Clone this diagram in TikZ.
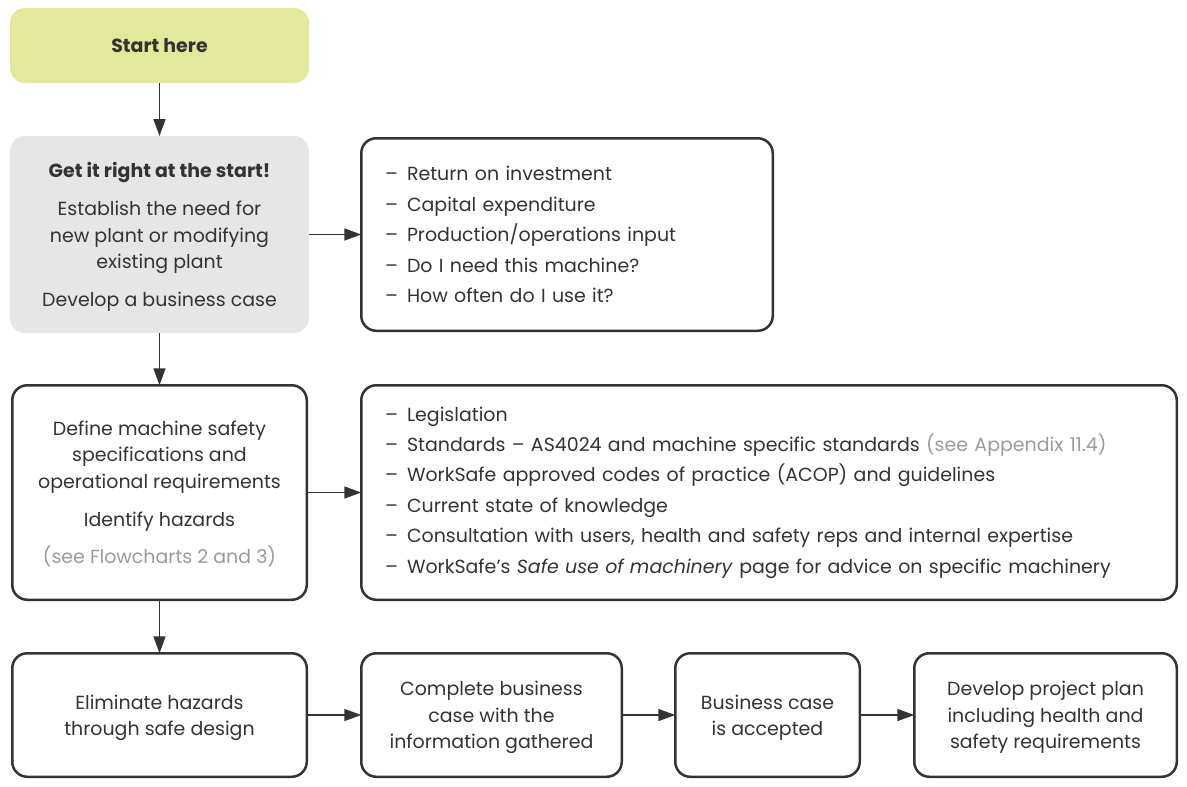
\documentclass[tikz,border=0pt]{standalone}
\usepackage{fontspec}
\setmainfont{Poppins}
\usetikzlibrary{positioning,arrows.meta}
\definecolor{startgreen}{HTML}{E3E99B}
\definecolor{boxgrey}{HTML}{E6E6E7}
\definecolor{darktext}{HTML}{333333}
\definecolor{softtext}{HTML}{9B9B9B}
\newcommand{\dashitem}{\makebox[0.44cm][l]{--}}
\tikzset{
  boxbase/.style={draw=darktext,line width=0.05cm,outer sep=0pt,rounded corners=0.3cm,text=darktext},
  flowbox/.style={boxbase,align=center,text depth=0pt,font=\fontsize{10.8}{15}\selectfont},
  listbox/.style={boxbase,align=left,inner xsep=0.475cm,font=\fontsize{10.8}{17.3}\selectfont},
  flowarrow/.style={-{Triangle[length=0.34cm,width=0.24cm]},line width=0.03cm,draw=darktext},
}
\begin{document}
\begin{tikzpicture}
	\useasboundingbox (0,0) rectangle (23.74,-15.72);
	\node[fill=startgreen,rounded corners=0.3cm,outer sep=0pt,minimum width=5.98cm,minimum height=1.5cm,text=darktext,font=\fontsize{10.8}{15}\selectfont\bfseries] (start) at (3.19,-0.91) {Start here};
	\node[flowbox,draw=none,fill=boxgrey,minimum width=5.98cm,minimum height=3.94cm,below=1.06cm of start] (need) {\textbf{Get it right at the start!}\\[0.23cm] Establish the need for\\ new plant or modifying\\ existing plant\\[0.23cm] Develop a business case};
	\node[listbox,text width=7.28cm,minimum height=3.85cm,right=1.045cm of need] (invest) {\dashitem Return on investment\\ \dashitem Capital expenditure\\ \dashitem Production/operations input\\ \dashitem Do I need this machine?\\ \dashitem How often do I use it?};
	\node[flowbox,minimum width=5.89cm,minimum height=4.29cm,below=1.045cm of need] (spec) {Define machine safety\\ specifications and\\ operational requirements\\[0.23cm] Identify hazards\\[0.23cm] \textcolor{softtext}{(see Flowcharts 2 and 3)}};
	\node[listbox,text width=15.36cm,minimum height=4.29cm,right=1.09cm of spec] (legis) {\dashitem Legislation\\ \dashitem Standards -- AS4024 and machine specific standards \textcolor{softtext}{(see Appendix 11.4)}\\ \dashitem WorkSafe approved codes of practice (ACOP) and guidelines\\ \dashitem Current state of knowledge\\ \dashitem Consultation with users, health and safety reps and internal expertise\\ \dashitem WorkSafe’s \textit{Safe use of machinery} page for advice on specific machinery};
	\node[flowbox,minimum width=5.89cm,minimum height=2.47cm,below=1.07cm of spec] (elim) {Eliminate hazards\\ through safe design};
	\node[flowbox,minimum width=5.21cm,minimum height=2.47cm,right=1.09cm of elim] (gather) {Complete business\\ case with the\\ information gathered};
	\node[flowbox,minimum width=3.69cm,minimum height=2.47cm,right=1.07cm of gather] (accept) {Business case\\ is accepted};
	\node[flowbox,minimum width=5.25cm,minimum height=2.47cm,right=1.09cm of accept] (plan) {Develop project plan\\ including health and\\ safety requirements};
	
	\draw[flowarrow] (start.south)--(need.north);
	\draw[flowarrow] (need.south)--(spec.north);
	\draw[flowarrow] (spec.south)--(elim.north);
	\draw[flowarrow] (need.east)--(invest.west);
	\draw[flowarrow] (spec.east)--(legis.west);
	\draw[flowarrow] (elim.east)--(gather.west);
	\draw[flowarrow] (gather.east)--(accept.west);
	\draw[flowarrow] (accept.east)--(plan.west);
\end{tikzpicture}
\end{document}
